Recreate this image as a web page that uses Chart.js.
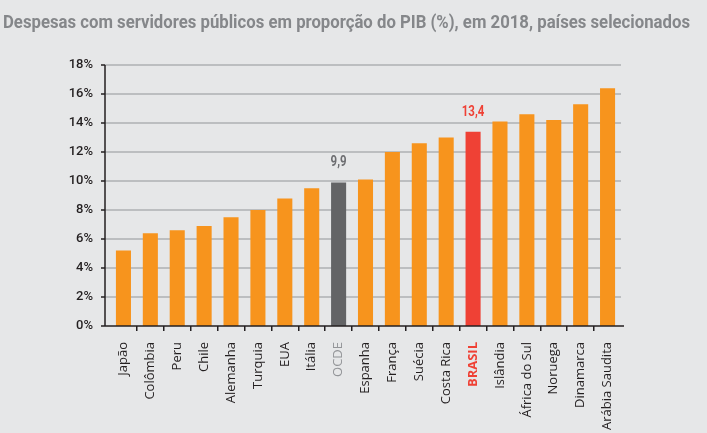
<!DOCTYPE html>
<html><head><meta charset="utf-8">
<script src="https://cdn.jsdelivr.net/npm/chart.js@4"></script>
<style>html,body{margin:0;padding:0;background:#E6E7E8;}#wrap{width:707px;height:433px;}</style>
</head><body><div id="wrap"><canvas id="c" width="707" height="433"></canvas></div>
<script>
const titleText = 'Despesas com servidores públicos em proporção do PIB (%), em 2018, países selecionados';
const categories = ['Japão','Colômbia','Peru','Chile','Alemanha','Turquia','EUA','Itália','OCDE','Espanha','França','Suécia','Costa Rica','BRASIL','Islândia','África do Sul','Noruega','Dinamarca','Arábia Saudita'];
const values = [5.2,6.4,6.6,6.9,7.5,8.0,8.8,9.5,9.9,10.1,12.0,12.6,13.0,13.4,14.1,14.6,14.2,15.3,16.4];
const valueLabels = ['','','','','','','','','9,9','','','','','13,4','','','','',''];
const yTicks = [0,2,4,6,8,10,12,14,16,18];

const ORANGE = '#F7941D', GREY_BAR = '#636466', RED = '#EF4135', DARK = '#231F20', GREY_TXT = '#939598';
const barColor = c => c === 'OCDE' ? GREY_BAR : (c === 'BRASIL' ? RED : ORANGE);
const labelColor = c => c === 'OCDE' ? GREY_TXT : (c === 'BRASIL' ? RED : DARK);

const textFamily = '"Roboto", sans-serif';

function drawCondensed(ctx, text, x, y, font, targetW, align) {
  ctx.save();
  ctx.font = font;
  ctx.textAlign = 'left';
  const w = ctx.measureText(text).width;
  const k = targetW ? targetW / w : 0.82;
  let x0 = x;
  if (align === 'center') x0 = x - (w * k) / 2;
  ctx.translate(x0, y);
  ctx.scale(k, 1);
  ctx.fillText(text, 0, 0);
  ctx.restore();
}

const axisPlugin = {
  id: 'axisPlugin',
  beforeDatasetsDraw(chart) {
    const {ctx, chartArea: a, scales: {y}} = chart;
    const ax = a.left - 5;
    ctx.save();
    ctx.lineWidth = 2;
    ctx.strokeStyle = '#BCBEC0';
    yTicks.forEach(v => {
      if (v === 0) return;
      const py = Math.round(y.getPixelForValue(v));
      ctx.beginPath(); ctx.moveTo(ax, py); ctx.lineTo(a.right, py); ctx.stroke();
    });
    ctx.restore();
  },
  afterDatasetsDraw(chart) {
    const {ctx, chartArea: a, scales: {y}} = chart;
    const ax = a.left - 5;
    ctx.save();
    ctx.strokeStyle = DARK;
    ctx.lineWidth = 1.5;
    yTicks.forEach(v => {
      const py = Math.round(y.getPixelForValue(v));
      ctx.beginPath(); ctx.moveTo(ax - 4, py); ctx.lineTo(ax, py); ctx.stroke();
    });
    const top = y.getPixelForValue(yTicks[yTicks.length-1]);
    const bot = Math.round(y.getPixelForValue(0));
    ctx.beginPath(); ctx.moveTo(ax, top); ctx.lineTo(ax, bot); ctx.stroke();
    ctx.beginPath(); ctx.moveTo(ax, bot); ctx.lineTo(a.right + 3, bot); ctx.stroke();
    const meta = chart.getDatasetMeta(0);
    meta.data.forEach((el, i) => {
      if (!valueLabels[i]) return;
      ctx.fillStyle = categories[i] === 'BRASIL' ? RED : '#6D6E71';
      drawCondensed(ctx, valueLabels[i], el.x, el.y - 16, 'bold 14px ' + textFamily, 0, 'center');
    });
    ctx.fillStyle = '#85878A';
    drawCondensed(ctx, titleText, 3, 28, 'bold 19px ' + textFamily, 687, 'left');
    ctx.restore();
  }
};

const hideEdge = ctx => (ctx.index === 0 || ctx.index === undefined || ctx.index >= categories.length);

function build() {
  new Chart(document.getElementById('c'), {
    type: 'bar',
    data: {
      labels: categories,
      datasets: [{
        data: values,
        backgroundColor: categories.map(barColor),
        barPercentage: 0.56,
        categoryPercentage: 1.0,
        borderWidth: 0
      }]
    },
    options: {
      responsive: false,
      animation: false,
      layout: {padding: {top: 65, right: 86, left: 0, bottom: 0}},
      plugins: {legend: {display: false}, tooltip: {enabled: false}, title: {display: false}},
      scales: {
        x: {
          grid: {
            display: true, drawOnChartArea: false, drawTicks: true, tickLength: 5, lineWidth: 1.5,
            offset: true,
            tickColor: ctx => hideEdge(ctx) ? 'rgba(0,0,0,0)' : DARK,
            color: ctx => hideEdge(ctx) ? 'rgba(0,0,0,0)' : DARK
          },
          border: {display: false},
          ticks: {
            autoSkip: false, maxRotation: 90, minRotation: 90, padding: 11,
            color: ctx => labelColor(categories[ctx.index]),
            font: ctx => ({family: '"Open Sans", sans-serif', size: 13, weight: categories[ctx.index] === 'BRASIL' ? 'bold' : '500'})
          },
          afterFit: s => { s.height = 107; }
        },
        y: {
          min: 0, max: 18,
          grid: {display: false, drawTicks: false},
          border: {display: false},
          ticks: {
            stepSize: 2, padding: 17, color: DARK,
            font: {family: '"Roboto", sans-serif', size: 13, weight: '500'},
            callback: v => v + '%'
          },
          afterFit: s => { s.width = 110; }
        }
      }
    },
    plugins: [axisPlugin]
  });
}

const fontLoads = ['500 13px "Open Sans"', 'bold 13px "Open Sans"', '500 13px "Roboto"', 'bold 19px "Roboto"']
  .map(f => document.fonts.load(f).catch(() => null));
Promise.race([Promise.all(fontLoads), new Promise(r => setTimeout(r, 1500))]).then(build);
</script>
</body></html>
